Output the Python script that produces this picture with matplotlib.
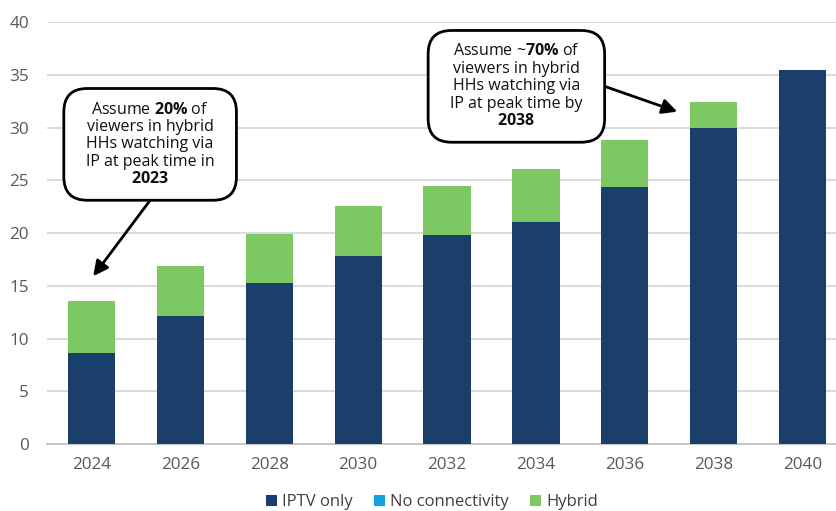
import matplotlib
matplotlib.use("Agg")
import matplotlib.pyplot as plt
from matplotlib.patches import FancyBboxPatch
import numpy as np

plt.rcParams['font.family'] = ['Open Sans', 'DejaVu Sans']
plt.rcParams['mathtext.fontset'] = 'custom'
plt.rcParams['mathtext.rm'] = 'Open Sans'
plt.rcParams['mathtext.bf'] = 'Open Sans:bold'

years = ["2024", "2026", "2028", "2030", "2032", "2034", "2036", "2038", "2040"]
iptv_only = [8.6, 12.1, 15.25, 17.8, 19.8, 21.0, 24.35, 29.95, 35.45]
no_connectivity = [0, 0, 0, 0, 0, 0, 0, 0, 0]
hybrid = [4.95, 4.8, 4.65, 4.75, 4.65, 5.05, 4.45, 2.45, 0]

c_iptv = "#1b3f6b"
c_noconn = "#0fa3e0"
c_hybrid = "#7cc963"

fig = plt.figure(figsize=(8.36, 5.11), dpi=100)
ax = fig.add_axes([47 / 836, 67 / 511, 1 - 47 / 836, (444 - 22) / 511])

x = np.arange(len(years))
w = 0.53
ax.bar(x, iptv_only, w, color=c_iptv, label="IPTV only", zorder=3)
base = np.array(iptv_only)
ax.bar(x, no_connectivity, w, bottom=base, color=c_noconn, label="No connectivity", zorder=3)
base = base + np.array(no_connectivity)
ax.bar(x, hybrid, w, bottom=base, color=c_hybrid, label="Hybrid", zorder=3)

ax.set_xlim(-0.5, -0.5 + (836 - 47) / 88.9)
ax.set_ylim(0, 40)
ax.set_yticks(np.arange(0, 41, 5))
ax.set_xticks(x)
ax.set_xticklabels(years)
ax.yaxis.grid(True, color="#d4d4d4", linewidth=1.2, zorder=0)
ax.set_axisbelow(True)
for s in ["left", "right", "top"]:
    ax.spines[s].set_visible(False)
ax.spines["bottom"].set_color("#c8c8c8")
ax.spines["bottom"].set_linewidth(1.5)
ax.tick_params(axis="both", length=0, labelsize=12.3, labelcolor="#595959")
ax.tick_params(axis="y", pad=13)
ax.tick_params(axis="x", pad=9)

fig.legend(loc="center", bbox_to_anchor=(432 / 836, 1 - 502 / 511), ncol=3, frameon=False,
           fontsize=12, labelcolor="#404040", handlelength=0.65, handleheight=0.65,
           handletextpad=0.3, columnspacing=1.3)


def callout(text, center, head, anchor):
    """Rounded call-out box with an arrow leaving from `anchor` side."""
    t = ax.text(*center, text, ha="center", va="center", fontsize=11.5,
                color="#111111", linespacing=1.12, zorder=7)
    fig.canvas.draw()
    bb = t.get_window_extent()
    px, py = 22, 13
    x0, y0 = bb.x0 - px, bb.y0 - py
    wd, ht = bb.width + 2 * px, bb.height + 2 * py
    inv = fig.transFigure.inverted()
    (fx0, fy0), (fx1, fy1) = inv.transform([(x0, y0), (x0 + wd, y0 + ht)])
    patch = FancyBboxPatch((fx0, fy0), fx1 - fx0, fy1 - fy0,
                           boxstyle="round,pad=0,rounding_size=0.028",
                           transform=fig.transFigure, fc="white", ec="black",
                           lw=2, zorder=6, mutation_aspect=836 / 511, clip_on=False)
    ax.add_artist(patch)
    if anchor == "bottom":
        start = ((x0 + wd / 2), y0)
    else:
        start = (x0 + wd, y0 + ht / 2)
    start_data = ax.transData.inverted().transform(start)
    ax.annotate("", xy=head, xytext=start_data,
                arrowprops=dict(arrowstyle="-|>,head_length=0.9,head_width=0.45",
                                color="black", lw=2, shrinkA=0, shrinkB=0), zorder=5)


callout("Assume $\\mathbf{20\\%}$ of\nviewers in hybrid\nHHs watching via\nIP at peak time in\n$\\mathbf{2023}$",
        (0.66, 28.4), (0.02, 15.9), "bottom")
callout("Assume ~$\\mathbf{70\\%}$ of\nviewers in hybrid\nHHs watching via\nIP at peak time by\n$\\mathbf{2038}$",
        (4.78, 33.9), (6.59, 31.5), "right")

fig.savefig("out.png", dpi=100)
